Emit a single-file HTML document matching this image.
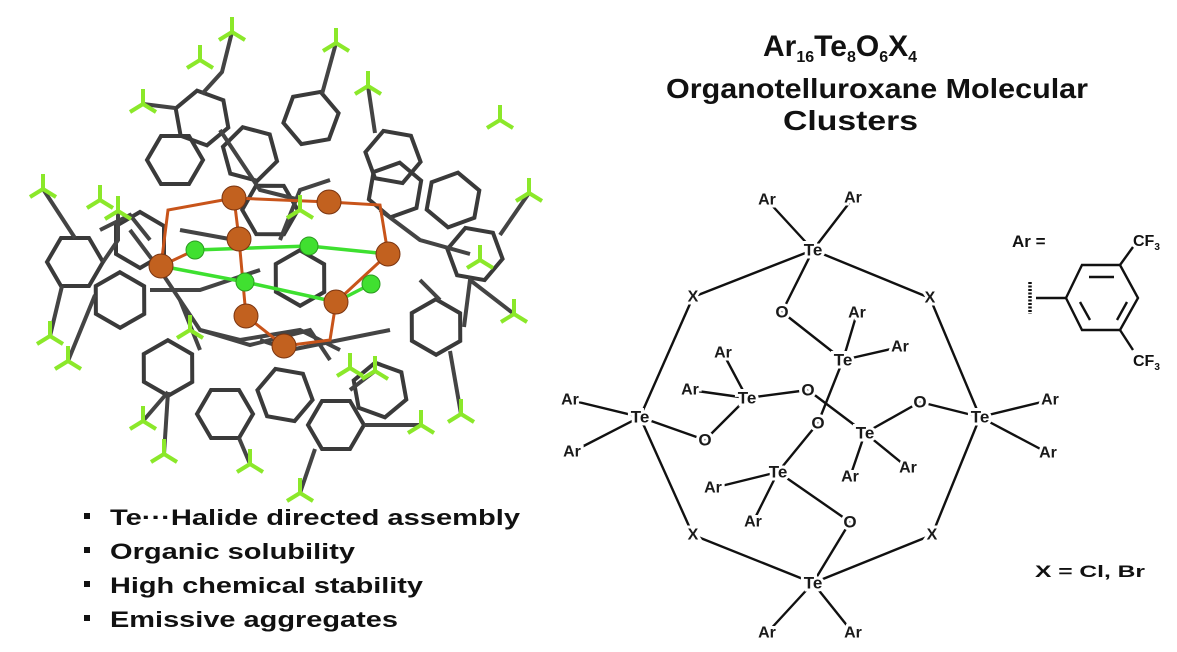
<!DOCTYPE html>
<html><head><meta charset="utf-8"><style>
html,body{margin:0;padding:0;background:#fff}
svg{display:block}
.t{font-family:"Liberation Sans",Arial,sans-serif;font-weight:bold;fill:#111}
.lb{font-family:"Liberation Sans",Arial,sans-serif;font-size:16px;font-weight:bold;fill:#1a1a1a;stroke:#fff;stroke-width:6px;paint-order:stroke;text-anchor:middle;dominant-baseline:central}
</style></head><body>
<svg width="1177" height="652" viewBox="0 0 1177 652" xmlns="http://www.w3.org/2000/svg">
<defs>
<polygon id="h" points="28,0 14,24 -14,24 -28,0 -14,-24 14,-24" fill="none" stroke="#3a3a3a" stroke-width="4"/>
<g id="f"><line x1="0" y1="0" x2="0" y2="-15" stroke="#8be82a" stroke-width="4"/><line x1="0" y1="0" x2="13" y2="8" stroke="#8be82a" stroke-width="4"/><line x1="0" y1="0" x2="-13" y2="8" stroke="#8be82a" stroke-width="4"/></g>
</defs>

<!-- left molecule -->
<g>
<use href="#h" transform="translate(75,262) rotate(0)"/>
<use href="#h" transform="translate(202,118) rotate(20)"/>
<use href="#h" transform="translate(311,118) rotate(-10)"/>
<use href="#h" transform="translate(393,157) rotate(10)"/>
<use href="#h" transform="translate(436,327) rotate(30)"/>
<use href="#h" transform="translate(168,368) rotate(30)"/>
<use href="#h" transform="translate(225,414) rotate(0)"/>
<use href="#h" transform="translate(336,425) rotate(0)"/>
<use href="#h" transform="translate(475,254) rotate(10)"/>
<use href="#h" transform="translate(453,200) rotate(-20)"/>
<use href="#h" transform="translate(250,154) rotate(15)"/>
<use href="#h" transform="translate(300,278) rotate(30)"/>
<use href="#h" transform="translate(395,190) rotate(40)"/>
<use href="#h" transform="translate(285,395) rotate(10)"/>
<use href="#h" transform="translate(120,300) rotate(30)"/>
<use href="#h" transform="translate(175,160) rotate(0)"/>
<use href="#h" transform="translate(380,390) rotate(20)"/>
<use href="#h" transform="translate(140,240) rotate(90)"/>
<use href="#h" transform="translate(270,210) rotate(60)"/>
<g stroke="#444" stroke-width="4" fill="none">
<polyline points="232,32 222,72 202,94"/>
<polyline points="336,43 322,94"/>
<polyline points="143,104 175,108"/>
<polyline points="368,86 375,133"/>
<polyline points="43,189 60,215 75,238"/>
<polyline points="118,211 118,240 103,262"/>
<polyline points="529,193 500,235"/>
<polyline points="514,314 470,280 464,327"/>
<polyline points="50,336 62,286"/>
<polyline points="68,361 95,295"/>
<polyline points="461,414 450,351"/>
<polyline points="421,425 364,425"/>
<polyline points="143,421 168,392"/>
<polyline points="164,454 168,392"/>
<polyline points="250,464 239,438"/>
<polyline points="300,493 315,449"/>
<polyline points="375,371 350,390"/>
<polyline points="130,230 160,270 200,330 240,340 300,330 340,350"/>
<polyline points="150,290 200,290 260,270"/>
<polyline points="280,240 300,190 330,180"/>
<polyline points="220,130 260,190 300,200"/>
<polyline points="380,210 420,240 470,254"/>
<polyline points="260,340 290,350 340,340 390,330"/>
<polyline points="180,230 235,240"/>
<polyline points="200,330 250,345 310,330 330,360"/>
<polyline points="100,230 130,215 150,240"/>
<polyline points="420,280 440,300"/>
<polyline points="180,300 200,350"/>
</g>
<g stroke="#c8541a" stroke-width="3" fill="none">
<polyline points="161,266 168,210 234,198 329,202 380,205 388,254"/>
<polyline points="239,239 246,316 284,346 330,340 336,302"/>
<line x1="234" y1="198" x2="239" y2="239"/>
<line x1="161" y1="266" x2="195" y2="250"/>
<line x1="336" y1="302" x2="388" y2="254"/>
</g>
<g stroke="#3ee030" stroke-width="3.5">
<line x1="195" y1="250" x2="309" y2="246"/>
<line x1="309" y1="246" x2="388" y2="254"/>
<line x1="161" y1="266" x2="245" y2="282"/>
<line x1="245" y1="282" x2="336" y2="302"/>
<line x1="371" y1="284" x2="336" y2="302"/>
</g>
<g fill="#40e030" stroke="#2a9a20" stroke-width="1">
<circle cx="195" cy="250" r="9"/><circle cx="309" cy="246" r="9"/><circle cx="245" cy="282" r="9"/><circle cx="371" cy="284" r="9"/>
</g>
<g fill="#c2611f" stroke="#7a3410" stroke-width="1">
<circle cx="234" cy="198" r="12"/><circle cx="329" cy="202" r="12"/><circle cx="239" cy="239" r="12"/><circle cx="388" cy="254" r="12"/><circle cx="161" cy="266" r="12"/><circle cx="336" cy="302" r="12"/><circle cx="246" cy="316" r="12"/><circle cx="284" cy="346" r="12"/>
</g>
<use href="#f" x="232" y="32"/><use href="#f" x="336" y="43"/><use href="#f" x="143" y="104"/><use href="#f" x="368" y="86"/>
<use href="#f" x="43" y="189"/><use href="#f" x="118" y="211"/><use href="#f" x="529" y="193"/><use href="#f" x="514" y="314"/>
<use href="#f" x="50" y="336"/><use href="#f" x="68" y="361"/><use href="#f" x="461" y="414"/><use href="#f" x="421" y="425"/>
<use href="#f" x="143" y="421"/><use href="#f" x="164" y="454"/><use href="#f" x="250" y="464"/><use href="#f" x="300" y="493"/>
<use href="#f" x="375" y="371"/><use href="#f" x="350" y="368"/><use href="#f" x="200" y="60"/><use href="#f" x="500" y="120"/>
<use href="#f" x="300" y="210"/><use href="#f" x="190" y="330"/><use href="#f" x="100" y="200"/><use href="#f" x="480" y="260"/>
</g>

<!-- title -->
<text class="t" x="763" y="56" font-size="30">Ar<tspan font-size="16" dy="6">16</tspan><tspan dy="-6">Te</tspan><tspan font-size="16" dy="6">8</tspan><tspan dy="-6">O</tspan><tspan font-size="16" dy="6">6</tspan><tspan dy="-6">X</tspan><tspan font-size="16" dy="6">4</tspan></text>
<text class="t" x="666" y="98" font-size="28" textLength="422" lengthAdjust="spacingAndGlyphs">Organotelluroxane Molecular</text>
<text class="t" x="783" y="130" font-size="28" textLength="135" lengthAdjust="spacingAndGlyphs">Clusters</text>

<!-- bullets -->
<g class="t" font-size="22">
<rect x="84" y="513" width="6" height="6" fill="#111"/>
<rect x="84" y="547" width="6" height="6" fill="#111"/>
<rect x="84" y="581" width="6" height="6" fill="#111"/>
<rect x="84" y="615" width="6" height="6" fill="#111"/>
<text x="110" y="525" textLength="410" lengthAdjust="spacingAndGlyphs">Te···Halide directed assembly</text>
<text x="110" y="559" textLength="245" lengthAdjust="spacingAndGlyphs">Organic solubility</text>
<text x="110" y="593" textLength="313" lengthAdjust="spacingAndGlyphs">High chemical stability</text>
<text x="110" y="627" textLength="288" lengthAdjust="spacingAndGlyphs">Emissive aggregates</text>
</g>

<!-- structure bonds -->
<g stroke="#111" stroke-width="2.4">
<line x1="813" y1="250" x2="767" y2="200"/><line x1="813" y1="250" x2="853" y2="198"/>
<line x1="813" y1="250" x2="693" y2="297"/><line x1="813" y1="250" x2="930" y2="298"/>
<line x1="813" y1="250" x2="782" y2="312"/><line x1="782" y1="312" x2="843" y2="360"/>
<line x1="843" y1="360" x2="857" y2="313"/><line x1="843" y1="360" x2="900" y2="347"/>
<line x1="843" y1="360" x2="818" y2="423"/>
<line x1="747" y1="398" x2="808" y2="390"/><line x1="747" y1="398" x2="723" y2="353"/><line x1="747" y1="398" x2="690" y2="390"/>
<line x1="747" y1="398" x2="705" y2="440"/><line x1="705" y1="440" x2="640" y2="417"/>
<line x1="808" y1="390" x2="865" y2="433"/>
<line x1="640" y1="417" x2="570" y2="400"/><line x1="640" y1="417" x2="572" y2="452"/>
<line x1="640" y1="417" x2="693" y2="297"/><line x1="640" y1="417" x2="693" y2="535"/>
<line x1="818" y1="423" x2="778" y2="472"/>
<line x1="865" y1="433" x2="920" y2="402"/><line x1="920" y1="402" x2="980" y2="417"/>
<line x1="865" y1="433" x2="850" y2="477"/><line x1="865" y1="433" x2="908" y2="468"/>
<line x1="980" y1="417" x2="1050" y2="400"/><line x1="980" y1="417" x2="1048" y2="453"/>
<line x1="980" y1="417" x2="930" y2="298"/><line x1="980" y1="417" x2="932" y2="535"/>
<line x1="778" y1="472" x2="713" y2="488"/><line x1="778" y1="472" x2="753" y2="522"/>
<line x1="778" y1="472" x2="850" y2="522"/><line x1="850" y1="522" x2="813" y2="583"/>
<line x1="813" y1="583" x2="693" y2="535"/><line x1="813" y1="583" x2="932" y2="535"/>
<line x1="813" y1="583" x2="767" y2="633"/><line x1="813" y1="583" x2="853" y2="633"/>
</g>
<g class="lb">
<text x="767" y="200">Ar</text><text x="853" y="198">Ar</text><text x="813" y="250" font-size="17">Te</text>
<text x="693" y="297">X</text><text x="930" y="298">X</text><text x="782" y="312" font-size="17">O</text>
<text x="857" y="313">Ar</text><text x="900" y="347">Ar</text><text x="843" y="360" font-size="17">Te</text>
<text x="723" y="353">Ar</text><text x="690" y="390">Ar</text><text x="747" y="398" font-size="17">Te</text>
<text x="808" y="390" font-size="17">O</text>
<text x="570" y="400">Ar</text><text x="572" y="452">Ar</text><text x="640" y="417" font-size="17">Te</text>
<text x="705" y="440" font-size="17">O</text><text x="818" y="423" font-size="17">O</text>
<text x="865" y="433" font-size="17">Te</text><text x="850" y="477">Ar</text><text x="908" y="468">Ar</text>
<text x="920" y="402" font-size="17">O</text><text x="980" y="417" font-size="17">Te</text>
<text x="1050" y="400">Ar</text><text x="1048" y="453">Ar</text>
<text x="778" y="472" font-size="17">Te</text><text x="713" y="488">Ar</text><text x="753" y="522">Ar</text>
<text x="850" y="522" font-size="17">O</text><text x="693" y="535">X</text><text x="932" y="535">X</text>
<text x="813" y="583" font-size="17">Te</text><text x="767" y="633">Ar</text><text x="853" y="633">Ar</text>
</g>

<!-- Ar definition -->
<text class="t" x="1012" y="247" font-size="17">Ar =</text>
<g stroke="#111" stroke-width="2.4" fill="none">
<polygon points="1066,298 1082,265 1120,265 1138,298 1120,330 1082,330"/>
<line x1="1089" y1="277" x2="1114" y2="277"/>
<line x1="1080" y1="302" x2="1090" y2="320"/>
<line x1="1127" y1="302" x2="1117" y2="320"/>
<line x1="1036" y1="298" x2="1066" y2="298"/>
<line x1="1030" y1="282" x2="1030" y2="314" stroke-width="3.5" stroke-dasharray="2,1.5"/>
<line x1="1120" y1="265" x2="1133" y2="247"/>
<line x1="1120" y1="330" x2="1133" y2="350"/>
</g>
<text x="1133" y="246" font-family="Liberation Sans,Arial,sans-serif" font-size="16" font-weight="bold" fill="#111">CF<tspan font-size="10" dy="4">3</tspan></text>
<text x="1133" y="366" font-family="Liberation Sans,Arial,sans-serif" font-size="16" font-weight="bold" fill="#111">CF<tspan font-size="10" dy="4">3</tspan></text>
<text class="t" x="1035" y="577" font-size="17" textLength="110" lengthAdjust="spacingAndGlyphs">X = Cl, Br</text>
</svg>
</body></html>
